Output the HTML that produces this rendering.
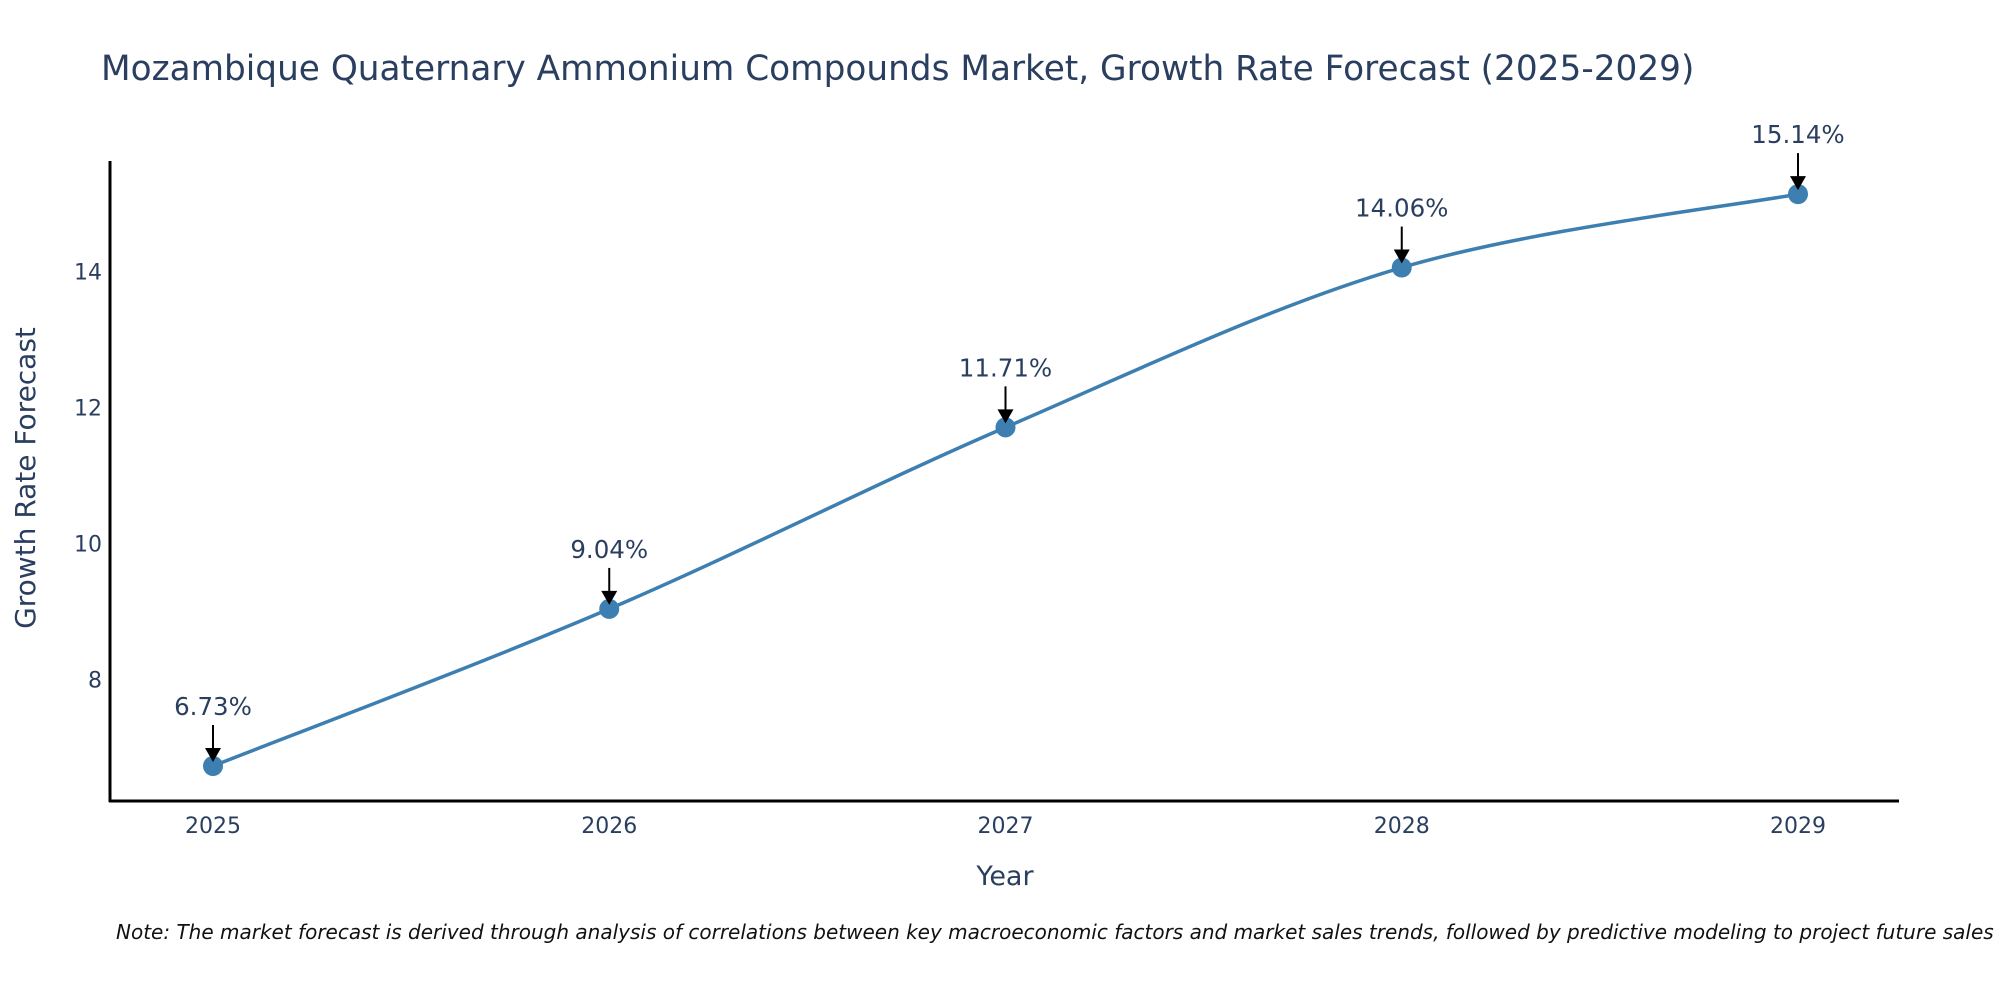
<!DOCTYPE html>
<html><head><meta charset="utf-8"><style>
body{margin:0;background:#fff;}
svg{display:block;font-family:"DejaVu Sans","Liberation Sans",sans-serif;}
</style></head><body>
<svg id="chart" width="2000" height="1000">
<text x="101" y="80" font-size="34.3" fill="#2a3f5f">Mozambique Quaternary Ammonium Compounds Market, Growth Rate Forecast (2025-2029)</text>
<g id="plot"></g>
<text x="1005" y="885" font-size="27" fill="#2a3f5f" text-anchor="middle">Year</text>
<text transform="translate(35,478) rotate(-90)" font-size="28" fill="#2a3f5f" text-anchor="middle">Growth Rate Forecast</text>
<text x="116" y="939" font-size="20" font-style="italic" fill="#111">Note: The market forecast is derived through analysis of correlations between key macroeconomic factors and market sales trends, followed by predictive modeling to project future sales</text>
</svg>
<script>
const years = [2025, 2026, 2027, 2028, 2029];
const values = [6.73, 9.04, 11.71, 14.06, 15.14];
const yTicks = [8, 10, 12, 14];
const NS = "http://www.w3.org/2000/svg";
const g = document.getElementById('plot');
const xS = i => 213 + (i) * 396.25;
const yS = v => 766 - (v - 6.73) * 68.0;
function mk(t, a) { const e = document.createElementNS(NS, t); for (const k in a) e.setAttribute(k, a[k]); g.appendChild(e); return e; }
let ax = mk('line', {x1:110, y1:161, x2:110, y2:802, stroke:'#000', 'stroke-width':3});


ax = mk('line', {x1:109, y1:801, x2:1899, y2:801, stroke:'#000', 'stroke-width':3});


yTicks.forEach(v => {
  const t = mk('text', {x:102, y:yS(v) + 8, 'font-size':22, fill:'#2a3f5f', 'text-anchor':'end'});
  t.textContent = v;
  
  
});
years.forEach((yr, i) => {
  const t = mk('text', {x:xS(i), y:833, 'font-size':22, fill:'#2a3f5f', 'text-anchor':'middle'});
  t.textContent = yr;
  
  
});
const pts = values.map((v, i) => [xS(i), yS(v)]);
let d = `M${pts[0][0]},${pts[0][1]}`;
for (let i = 0; i < pts.length - 1; i++) {
  const p0 = pts[Math.max(i-1,0)], p1 = pts[i], p2 = pts[i+1], p3 = pts[Math.min(i+2, pts.length-1)];
  const k = 1/6;
  d += ` C${p1[0]+(p2[0]-p0[0])*k},${p1[1]+(p2[1]-p0[1])*k} ${p2[0]-(p3[0]-p1[0])*k},${p2[1]-(p3[1]-p1[1])*k} ${p2[0]},${p2[1]}`;
}
const line = mk('path', {d, fill:'none', stroke:'#3d7fb0', 'stroke-width':3.5});


pts.forEach((p, i) => {
  const c = mk('circle', {cx:p[0], cy:p[1], r:10, fill:'#3d7fb0'});
  
  
  const a = mk('line', {x1:p[0], y1:p[1]-41, x2:p[0], y2:p[1]-14, stroke:'#000', 'stroke-width':2});
  
  
  const h = mk('polygon', {points:`${p[0]-8},${p[1]-18} ${p[0]+8},${p[1]-18} ${p[0]},${p[1]-4}`, fill:'#000'});
  
  
  const t = mk('text', {x:p[0], y:p[1]-51, 'font-size':24.5, fill:'#2a3f5f', 'text-anchor':'middle'});
  t.textContent = values[i].toFixed(2) + '%';
  
  
});
</script>
</body></html>
